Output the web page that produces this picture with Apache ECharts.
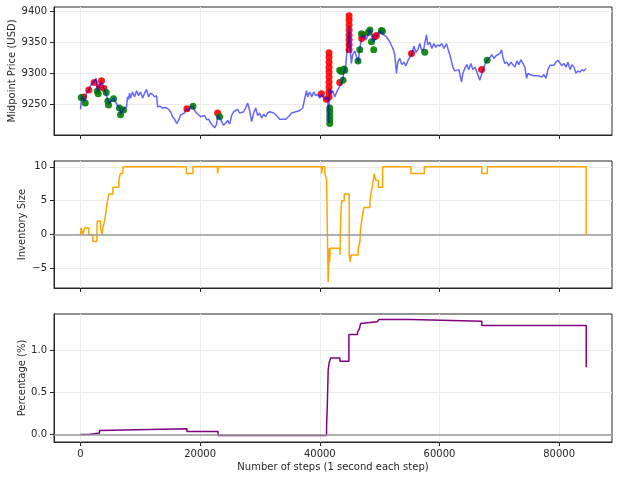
<!DOCTYPE html>
<html>
<head>
<meta charset="utf-8">
<script src="https://cdn.jsdelivr.net/npm/echarts@6/dist/echarts.min.js"></script>
<style>
  html, body { margin: 0; padding: 0; background: #fff; }
  #chart { width: 618px; height: 480px; }
</style>
</head>
<body>
<div id="chart"></div>
<script>
// midpoint price, sampled along the run (step, USD)
const priceSteps = [0, 170, 335, 670, 1000, 1340, 1670, 2000, 2340, 2630, 2840, 3180, 3510, 3850, 4180, 4520, 4850, 5190, 5520, 5860,
  6190, 6520, 6690, 7030, 7360, 7700, 7860, 8030, 8200, 8360, 8700, 9030, 9370, 9700, 10040, 10370, 10710, 11040, 11380, 11710,
  12050, 12380, 12720, 12880, 13220, 13720, 14220, 14720, 15060, 15390, 15730, 16060, 16400, 16730, 17060, 17400, 17730, 18070, 18400, 18740,
  19070, 19410, 19740, 20080, 20410, 20750, 21080, 21420, 21750, 22080, 22420, 22750, 22920, 23250, 23590, 23920, 24260, 24590, 24930, 25260,
  25600, 25930, 26270, 26600, 26930, 27270, 27600, 27940, 28270, 28600, 28940, 29280, 29610, 29950, 30280, 30610, 30950, 31280, 31620, 31950,
  32290, 32620, 32960, 33290, 33630, 33960, 34300, 34630, 34970, 35300, 35630, 35970, 36300, 36640, 36970, 37140, 37470, 37760, 37980, 38310,
  38650, 38980, 39310, 39650, 39980, 40320, 40650, 40990, 41320, 41490, 41600, 41830, 42160, 42500, 42830, 43160, 43500, 43830, 44000, 44330,
  44500, 44750, 44920, 45080, 45280, 45500, 45840, 46170, 46430, 46680, 47010, 47340, 47680, 48010, 48340, 48680, 49010, 49350, 49680, 50020,
  50350, 50690, 51140, 51350, 51690, 52020, 52240, 52530, 52810, 53030, 53370, 53700, 54040, 54370, 54710, 55040, 55370, 55710, 56040, 56380,
  56710, 57050, 57380, 57830, 58050, 58390, 58720, 59060, 59390, 59720, 60060, 60390, 60730, 61180, 61400, 61730, 62020, 62230, 62570, 62900,
  63240, 63690, 63910, 64240, 64580, 64910, 65250, 65580, 65920, 66250, 66750, 67090, 67420, 67760, 68090, 68430, 68760, 69100, 69430, 69760,
  70100, 70380, 70600, 70930, 71270, 71600, 71940, 72270, 72610, 72940, 73280, 73610, 73950, 74280, 74560, 74780, 75120, 75450, 75790, 76120,
  76460, 76790, 77130, 77460, 77800, 78130, 78470, 78800, 79140, 79470, 79810, 80140, 80480, 80810, 81150, 81480, 81810, 82150, 82480, 82820,
  83150, 83490, 83820, 84160, 84490]
const priceValues = [9242, 9258, 9262, 9255, 9268, 9272, 9280, 9283, 9288, 9292, 9270, 9280, 9286, 9278, 9270, 9258, 9252, 9256, 9260, 9254,
  9248, 9244, 9234, 9240, 9244, 9246, 9262, 9258, 9268, 9260, 9270, 9262, 9272, 9264, 9270, 9260, 9268, 9274, 9262, 9268,
  9266, 9262, 9264, 9246, 9247, 9244, 9245, 9242, 9238, 9230, 9226, 9219, 9224, 9233, 9232, 9236, 9243, 9240, 9246, 9247,
  9240, 9236, 9234, 9230, 9228, 9232, 9225, 9226, 9220, 9222, 9212, 9218, 9232, 9228, 9222, 9216, 9220, 9224, 9218, 9232,
  9238, 9236, 9242, 9236, 9234, 9238, 9244, 9252, 9240, 9222, 9236, 9244, 9232, 9236, 9228, 9234, 9230, 9236, 9238, 9238,
  9236, 9238, 9230, 9226, 9226, 9226, 9226, 9228, 9232, 9236, 9236, 9238, 9238, 9240, 9240, 9244, 9243, 9272, 9262, 9270,
  9262, 9270, 9264, 9266, 9260, 9266, 9260, 9258, 9262, 9220, 9275, 9268, 9272, 9262, 9270, 9276, 9282, 9290, 9300, 9312,
  9332, 9350, 9376, 9340, 9316, 9330, 9336, 9326, 9318, 9340, 9358, 9362, 9354, 9360, 9372, 9364, 9350, 9358, 9364, 9368,
  9370, 9362, 9359, 9356, 9351, 9344, 9340, 9330, 9300, 9318, 9324, 9314, 9318, 9312, 9320, 9326, 9330, 9344, 9334, 9338,
  9348, 9336, 9340, 9362, 9346, 9350, 9340, 9348, 9342, 9346, 9344, 9348, 9340, 9348, 9340, 9330, 9319, 9310, 9304, 9302,
  9306, 9286, 9300, 9308, 9314, 9306, 9316, 9306, 9310, 9302, 9289, 9300, 9310, 9318, 9322, 9326, 9330, 9324, 9328, 9330,
  9332, 9338, 9326, 9316, 9318, 9312, 9318, 9314, 9310, 9320, 9314, 9322, 9316, 9310, 9292, 9300, 9298, 9298, 9296, 9298,
  9296, 9298, 9294, 9298, 9292, 9306, 9313, 9314, 9313, 9318, 9321, 9318, 9312, 9316, 9310, 9318, 9306, 9314, 9310, 9300,
  9304, 9302, 9306, 9304, 9308]

// fills: red = sells, green = buys
const sellSteps = [500, 1390, 2290, 3510, 3180, 3900, 17780, 22920, 40270, 41100,
  41540, 41540, 41540, 41540, 41540, 41540, 41540, 41540, 41540, 41540,
  43330, 44890, 44890, 44890, 44890, 44890, 44890, 44890, 44890,
  47230, 47000, 49190, 49450, 55330, 67040]
const sellPrices = [9262, 9273, 9285, 9288, 9278, 9276, 9243, 9236, 9267, 9258,
  9262, 9270, 9278, 9286, 9294, 9302, 9310, 9318, 9326, 9333,
  9285, 9338, 9346, 9354, 9362, 9370, 9378, 9386, 9393,
  9362, 9356, 9359, 9361, 9332, 9306]
const buySteps = [120, 790, 2790, 2960, 4300, 4570, 4680, 5520, 6520, 6690, 7190, 18790, 23250,
  41660, 41660, 41660, 41660, 41660, 43620, 44170, 43880, 43330, 44050,
  46390, 46680, 46960, 49020, 48630, 50310, 48380, 48100, 50450, 57550, 67970]
const buyPrices = [9261, 9252, 9271, 9267, 9269, 9255, 9249, 9259, 9244, 9233, 9241, 9247, 9230,
  9244, 9238, 9231, 9225, 9219, 9303, 9305, 9289, 9305, 9307,
  9320, 9338, 9364, 9338, 9351, 9369, 9370, 9366, 9368, 9334, 9321]

// inventory (held until the next change)
const invSteps = [0, 100, 390, 670, 1395, 2065, 2735, 2790, 3350, 3600, 3740, 4020, 4185, 4350, 4520, 4745, 5410, 6420, 6640, 7085,
  17690, 18800, 22900, 23080, 40290, 40460, 40845, 41130, 41400, 41560, 41650, 41720, 43360, 43520, 43650, 44080, 44910, 45100, 45200,
  46420, 46700, 46820, 46990, 47160, 47370, 48380, 48550, 48760, 48930, 49100, 49330, 49770, 50500, 55240, 57470, 67080, 68010, 84530]
const invValues = [0, 1, 0, 1, 0, -1, 0, 2, 1, 0, 1, 2, 3, 4, 5, 6, 7, 8, 9, 10,
  9, 10, 9, 10, 9, 10, 9, 8, -7, -2, -4, -2, -3, 3, 5, 6, -3, -4, -3,
  -2, -1, 1, 2, 3, 4, 5, 6, 7, 8, 9, 8, 7, 10, 9, 10, 9, 10, 0]

// percentage (held until the next change)
const pctSteps = [0, 1395, 3180, 3460, 17800, 22990, 41130, 41250, 41400, 41560, 41800, 43360, 44860, 46310, 46600, 46820, 47000,
  49600, 49900, 55240, 67080, 84530]
const pctValues = [0, 0.02, 0.05, 0.07, 0.036, -0.012, 0.1, 0.34, 0.77, 0.85, 0.91, 0.87, 1.19, 1.22, 1.25, 1.32, 1.34,
  1.356, 1.368, 1.346, 1.296, 0.80]

const xTicks = [0, 20000, 40000, 60000, 80000]
const priceTicks = [9250, 9300, 9350, 9400]
const invTicks = [-5, 0, 5, 10]
const pctTicks = [0, 0.5, 1.0]

const zip = (xs, ys) => xs.map((x, i) => [x, ys[i]])

const font = 'DejaVu Sans'
const ink = '#262626'
const gridColor = '#ebebeb'

const grids = [
  { left: 54, top: 7, width: 558, height: 128 },
  { left: 54, top: 161, width: 558, height: 127 },
  { left: 54, top: 314, width: 558, height: 128 }
]

function xAxis (i) {
  return {
    type: 'value',
    gridIndex: i,
    min: -4430,
    max: 88840,
    axisLine: { show: true, onZero: false, lineStyle: { color: ink, width: 1 } },
    axisTick: { show: true, customValues: xTicks, length: 4, lineStyle: { color: ink } },
    axisLabel: {
      show: i === 2,
      customValues: xTicks,
      margin: 7,
      fontFamily: font,
      fontSize: 10,
      color: ink,
      formatter: v => String(v)
    },
    splitLine: { show: true, lineStyle: { color: gridColor, width: 1 } },
    name: i === 2 ? 'Number of steps (1 second each step)' : '',
    nameLocation: 'middle',
    nameGap: 20,
    nameTextStyle: { fontFamily: font, fontSize: 10, color: ink }
  }
}

function yAxis (i, min, max, ticks, name, gap, fmt) {
  return {
    type: 'value',
    gridIndex: i,
    min: min,
    max: max,
    axisLine: { show: true, onZero: false, lineStyle: { color: ink, width: 1 } },
    axisTick: { show: true, customValues: ticks, length: 4, lineStyle: { color: ink } },
    axisLabel: {
      customValues: ticks,
      margin: 7,
      fontFamily: font,
      fontSize: 10,
      color: ink,
      formatter: fmt
    },
    splitLine: { show: true, lineStyle: { color: gridColor, width: 1 } },
    name: name,
    nameLocation: 'middle',
    nameGap: gap,
    nameMoveOverlap: false,
    nameTextStyle: { fontFamily: font, fontSize: 10, color: ink }
  }
}

const zeroLine = {
  silent: true,
  symbol: 'none',
  label: { show: false },
  lineStyle: { color: '#9a9a9a', width: 1.5, type: 'solid' },
  data: [{ yAxis: 0 }]
}

const chart = echarts.init(document.getElementById('chart'))
chart.setOption({
  animation: false,
  backgroundColor: '#fff',
  grid: grids.map(g => Object.assign({
    show: true,
    borderColor: ink,
    borderWidth: 1,
    backgroundColor: 'transparent',
    containLabel: false,
    outerBoundsMode: 'none'
  }, g)),
  xAxis: [xAxis(0), xAxis(1), xAxis(2)],
  yAxis: [
    yAxis(0, 9200.5, 9407, priceTicks, 'Midpoint Price (USD)', 37, v => String(v)),
    yAxis(1, -7.85, 10.85, invTicks, 'Inventory Size', 27, v => String(v).replace('-', '\u2212')),
    yAxis(2, -0.088, 1.432, pctTicks, 'Percentage (%)', 27, v => v.toFixed(1).replace('-', '\u2212'))
  ],
  series: [
    {
      type: 'scatter',
      xAxisIndex: 0,
      yAxisIndex: 0,
      data: zip(sellSteps, sellPrices),
      symbolSize: 7,
      itemStyle: { color: '#ff0000', opacity: 0.9 },
      z: 2
    },
    {
      type: 'scatter',
      xAxisIndex: 0,
      yAxisIndex: 0,
      data: zip(buySteps, buyPrices),
      symbolSize: 7,
      itemStyle: { color: '#008000', opacity: 0.9 },
      z: 2
    },
    {
      type: 'line',
      xAxisIndex: 0,
      yAxisIndex: 0,
      data: zip(priceSteps, priceValues),
      showSymbol: false,
      lineStyle: { color: 'rgba(0,0,255,0.6)', width: 1.5 },
      z: 3
    },
    {
      type: 'line',
      xAxisIndex: 1,
      yAxisIndex: 1,
      step: 'end',
      data: zip(invSteps, invValues),
      showSymbol: false,
      lineStyle: { color: '#ffa500', width: 1.5 },
      markLine: zeroLine,
      z: 3
    },
    {
      type: 'line',
      xAxisIndex: 2,
      yAxisIndex: 2,
      step: 'end',
      data: zip(pctSteps, pctValues),
      showSymbol: false,
      lineStyle: { color: '#800080', width: 1.5 },
      markLine: zeroLine,
      z: 3
    }
  ]
})
</script>
</body>
</html>
